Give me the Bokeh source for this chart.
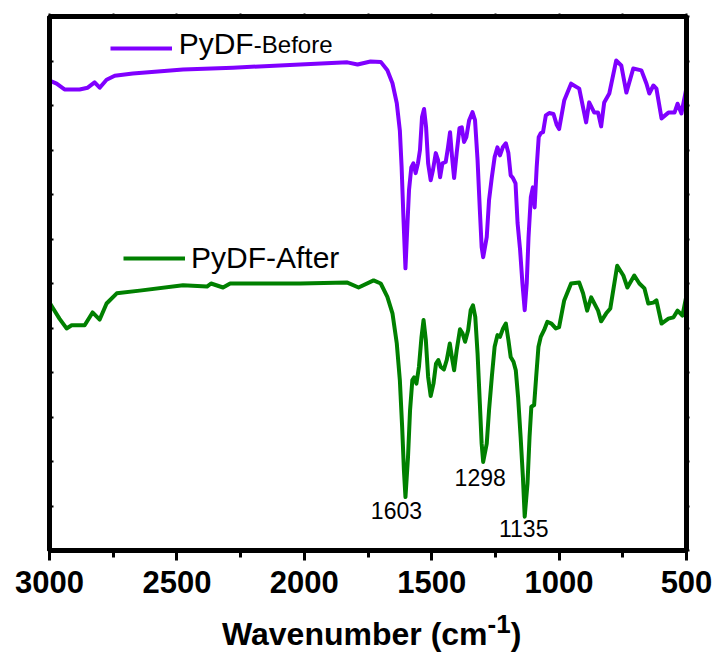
from bokeh.plotting import figure
from bokeh.layouts import column
from bokeh.models import (Range1d, FixedTicker, LinearAxis, Legend, LegendItem,
                          Label, CustomJSTickFormatter, Div)
from bokeh.embed import file_html
from bokeh.resources import INLINE

# ---------------- data ----------------
before_wn = [3000, 2972, 2941, 2882, 2850, 2823, 2803, 2776, 2744, 2673,
             2476, 2280, 2016, 1831, 1791, 1740,
             1700, 1674, 1654, 1637, 1625, 1618, 1611, 1603, 1595, 1589,
             1580, 1572, 1563, 1554, 1546, 1538, 1530, 1522, 1514, 1504,
             1495, 1484, 1475, 1467, 1458, 1445, 1436, 1428, 1420, 1412,
             1402, 1391, 1382, 1373, 1364, 1353, 1340, 1330, 1320, 1311,
             1304, 1298, 1284, 1275, 1264, 1253, 1242, 1232, 1221, 1209,
             1199, 1190, 1181, 1171, 1163, 1153, 1144, 1135, 1127, 1120,
             1111, 1103, 1096, 1088, 1080, 1072, 1063, 1052, 1039, 1022,
             1009, 1000,
             980, 953, 921, 894, 882, 862, 847, 835, 823, 803,
             776, 756, 736, 709, 677, 657, 646, 630, 618, 598,
             571, 547, 535, 520, 500]
before_val = [10.56, 10.49, 10.36, 10.36, 10.40, 10.52, 10.40, 10.58, 10.67, 10.72,
              10.81, 10.85, 10.92, 10.97, 10.92, 10.99,
              10.98, 10.79, 10.50, 10.05, 9.44, 8.61, 7.49, 6.34, 7.36, 8.10,
              8.61, 8.70, 8.48, 8.70, 9.00, 9.74, 9.92, 9.51, 8.70, 8.32,
              8.55, 8.93, 8.77, 8.39, 8.70, 8.73, 9.06, 9.40, 8.84, 8.37,
              8.93, 9.49, 9.51, 9.18, 9.29, 9.67, 9.85, 9.67, 8.77, 7.65,
              6.82, 6.59, 7.04, 7.87, 8.39, 8.84, 9.06, 8.88, 9.06, 9.15,
              8.93, 8.43, 8.37, 8.25, 7.36, 6.75, 6.01, 5.40, 6.01, 7.04,
              7.94, 8.16, 7.71, 8.61, 9.29, 9.38, 9.40, 9.78, 9.83, 9.81,
              9.56, 9.47,
              10.11, 10.49, 10.38, 9.62, 10.07, 9.84, 9.84, 9.53, 10.07, 10.27,
              11.01, 10.90, 10.29, 10.83, 10.79, 10.49, 10.27, 10.45, 10.38, 9.71,
              9.84, 9.84, 10.04, 9.82, 10.40]

after_wn = [3000, 2988, 2961, 2933, 2913, 2862, 2831, 2803, 2776, 2736,
            2646, 2476, 2382, 2366, 2319, 2291, 2016, 1831, 1787, 1728,
            1700, 1674, 1654, 1637, 1625, 1616, 1609, 1603, 1593, 1585,
            1576, 1569, 1560, 1550, 1540, 1532, 1523, 1514, 1504, 1493,
            1483, 1474, 1465, 1452, 1441, 1429, 1421, 1412, 1402, 1389,
            1379, 1369, 1357, 1347, 1338, 1329, 1320, 1311, 1304, 1298,
            1284, 1275, 1264, 1253, 1242, 1232, 1220, 1209, 1199, 1190,
            1179, 1170, 1161, 1151, 1142, 1135, 1124, 1116, 1109, 1098,
            1090, 1081, 1072, 1059, 1046, 1030, 1013, 1000,
            980, 953, 921, 906, 890, 874, 847, 835, 815, 799,
            772, 748, 732, 705, 685, 665, 650, 630, 618, 598,
            571, 551, 535, 516, 500]
after_val = [5.57, 5.46, 5.21, 4.99, 5.06, 5.06, 5.35, 5.19, 5.55, 5.78,
             5.84, 5.96, 5.93, 6.00, 5.91, 6.00, 6.00, 6.02, 5.91, 6.07,
             6.00, 5.70, 5.33, 4.65, 3.83, 2.78, 1.80, 1.20, 2.10, 3.15,
             3.83, 3.89, 3.75, 4.13, 4.80, 5.18, 4.73, 3.90, 3.47, 3.75,
             4.20, 4.28, 4.13, 4.07, 4.28, 4.65, 4.35, 4.05, 4.50, 4.97,
             4.88, 4.69, 4.95, 5.40, 5.51, 5.25, 4.43, 3.30, 2.40, 1.99,
             2.40, 3.15, 3.90, 4.58, 4.84, 4.80, 4.99, 5.10, 4.73, 4.35,
             4.24, 4.05, 3.45, 2.55, 1.65, 0.76, 1.51, 2.55, 3.23, 3.27,
             3.90, 4.58, 4.80, 4.95, 5.14, 5.10, 4.99, 5.02,
             5.62, 6.00, 6.02, 5.78, 5.39, 5.69, 5.39, 5.15, 5.33, 5.44,
             6.40, 6.18, 5.91, 6.18, 6.00, 5.89, 5.55, 5.57, 5.62, 5.10,
             5.21, 5.24, 5.39, 5.28, 5.73]

peak_wn = [1603, 1298, 1135]
peak_labels = ["1603", "1298", "1135"]

before_name = "PyDF"
before_suffix = "-Before"
after_name = "PyDF-After"
x_title = "Wavenumber (cm"
x_title_sup = "-1"
x_title_end = ")"

x_major_ticks = [3000, 2500, 2000, 1500, 1000, 500]
x_minor_ticks = [2750, 2250, 1750, 1250, 750]
y_ticks = [0, 1, 2, 3, 4, 5, 6, 7, 8, 9, 10, 11, 12]

# ---------------- styles ----------------
PURPLE = "#8000ff"
GREEN = "#008000"
FONT = "Liberation Sans"
label_dx = [-9, -3, -1]
label_dy = [-13, -16, -12]
TITLE_H = 45

p = figure(width=715, height=653 - TITLE_H, x_range=Range1d(3000, 500), y_range=Range1d(0, 12),
           output_backend="svg", toolbar_location=None,
           min_border_left=49, min_border_right=29, min_border_top=16,
           min_border_bottom=653 - TITLE_H - 16 - 534)
p.background_fill_color = "white"
p.border_fill_color = "white"
p.xgrid.visible = False
p.ygrid.visible = False
p.outline_line_color = "black"
p.outline_line_width = 5
p.outline_line_alpha = 1

blank = CustomJSTickFormatter(code="return ''")

# bottom axis
xa = p.xaxis[0]
xa.ticker = FixedTicker(ticks=x_major_ticks, minor_ticks=x_minor_ticks)
xa.axis_line_width = 5
xa.major_tick_line_width = 3
xa.minor_tick_line_width = 3
xa.major_tick_out = 10
xa.major_tick_in = 0
xa.minor_tick_out = 7
xa.minor_tick_in = 0
xa.major_label_text_font = FONT
xa.major_label_text_font_style = "bold"
xa.major_label_text_font_size = "31px"
xa.major_label_text_color = "black"
xa.major_label_standoff = 10

# left axis
ya = p.yaxis[0]
ya.ticker = FixedTicker(ticks=y_ticks, minor_ticks=[])
ya.formatter = blank
ya.axis_line_width = 5
ya.major_tick_line_width = 2
ya.major_tick_in = 4
ya.major_tick_out = 0
ya.major_label_standoff = 0

# right axis
ra = LinearAxis(ticker=FixedTicker(ticks=y_ticks, minor_ticks=[]), formatter=blank,
                axis_line_width=5, major_tick_line_width=2, major_tick_in=0,
                major_tick_out=3, major_label_standoff=0)
p.add_layout(ra, "right")

# top axis
ta = LinearAxis(ticker=FixedTicker(ticks=x_major_ticks + x_minor_ticks, minor_ticks=[]),
                formatter=blank, axis_line_width=5, major_tick_line_width=2,
                major_tick_in=0, major_tick_out=3, major_label_standoff=0)
p.add_layout(ta, "above")

r_before = p.line(before_wn, before_val, line_color=PURPLE, line_width=4, line_join="round")
r_after = p.line(after_wn, after_val, line_color=GREEN, line_width=4, line_join="round")

leg_common = dict(padding=0, margin=0, spacing=0, glyph_width=62, glyph_height=34,
                  label_height=34, label_standoff=6, background_fill_alpha=0,
                  border_line_alpha=0, label_text_font=FONT, label_text_font_size="30px",
                  label_text_color="black")
leg1 = Legend(items=[LegendItem(label=" ", renderers=[r_before])],
              location=(61, 485), **leg_common)
leg2 = Legend(items=[LegendItem(label=after_name, renderers=[r_after])],
              location=(74, 275), **leg_common)
p.add_layout(leg1)
p.add_layout(leg2)

p.add_layout(Label(x=2493, y=11.40, text=before_name, text_font=FONT,
                   text_font_size="30px", text_color="black", text_baseline="alphabetic"))
p.add_layout(Label(x=2198, y=11.37, text=before_suffix, text_font=FONT,
                   text_font_size="24px", text_color="black", text_baseline="alphabetic"))

# peak labels
for w, t, dx, dy in zip(peak_wn, peak_labels, label_dx, label_dy):
    yv = after_val[after_wn.index(w)]
    p.add_layout(Label(x=w, y=yv, x_offset=dx, y_offset=dy, text=t, text_font=FONT,
                       text_font_size="23px", text_color="black", text_align="center",
                       text_baseline="alphabetic"))

# x axis title with a real superscript, as HTML below the figure
title_html = (
    '<div style="font-family:\'Liberation Sans\',Arial,sans-serif;font-weight:bold;'
    'font-size:32px;line-height:32px;padding-left:222px;padding-top:10px;'
    'white-space:nowrap;color:black;">'
    + x_title
    + '<span style="position:relative;top:-12px;font-size:26px;">' + x_title_sup + '</span>'
    + x_title_end + '</div>'
)
title_div = Div(text=title_html, width=715, height=TITLE_H, margin=0)

page = column(p, title_div, spacing=0)

open("out.html", "w").write(file_html(page, INLINE))
